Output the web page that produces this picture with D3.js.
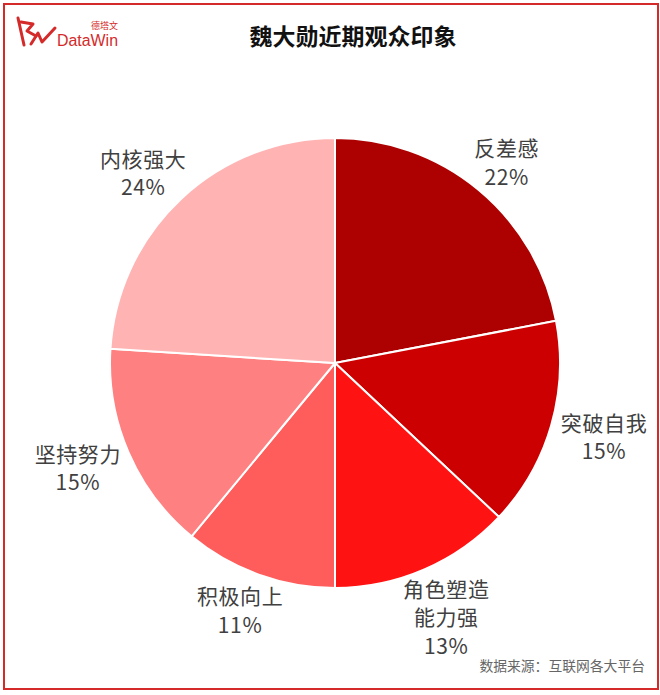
<!DOCTYPE html>
<html><head><meta charset="utf-8">
<script src="https://cdn.jsdelivr.net/npm/d3@7/dist/d3.min.js"></script>
<style>body{margin:0;background:#fff}svg{display:block}</style>
</head><body>
<svg id="c" width="660" height="695"></svg>
<script>
const categories = ["反差感", "突破自我", "角色塑造\n能力强", "积极向上", "坚持努力", "内核强大"];
const values = [22, 15, 13, 11, 15, 24];
const colors = ["#AD0000", "#CC0000", "#FF1212", "#FF5C5C", "#FF8080", "#FFB3B3"];
const title = "魏大勋近期观众印象";
const source = "数据来源：互联网各大平台";

const svg = d3.select("#c");
const font = "'Noto Sans CJK SC', 'Noto Sans', sans-serif";

// frame
svg.append("rect").attr("x", 4).attr("y", 4).attr("width", 654).attr("height", 685)
  .attr("fill", "none").attr("stroke", "#D42A2A").attr("stroke-width", 2);

// logo
const logo = svg.append("g").attr("fill", "none").attr("stroke", "#D42A2A").attr("stroke-width", 3).attr("stroke-linecap", "round").attr("stroke-linejoin", "round");
logo.append("path").attr("d", "M18,18 L24,45");
logo.append("path").attr("d", "M21,22 L33,24 L27,31 L36,36");
logo.append("path").attr("d", "M31,44 L38,33 L42,42 L55,28");
svg.append("text").attr("x", 57).attr("y", 46).attr("fill", "#D42A2A")
  .attr("font-family", "'Liberation Sans', Arial, sans-serif").attr("font-size", 16)
  .attr("textLength", 61).attr("lengthAdjust", "spacingAndGlyphs").text("DataWin");
svg.append("text").attr("x", 91).attr("y", 29).attr("fill", "#D42A2A")
  .attr("font-family", font).attr("font-size", 9).text("德塔文");

// title
svg.append("text").attr("x", 353).attr("y", 35).attr("text-anchor", "middle")
  .attr("dominant-baseline", "central").attr("font-family", font).attr("font-weight", "bold")
  .attr("font-size", 23).attr("fill", "#111").text(title);

// source
svg.append("text").attr("x", 645).attr("y", 665).attr("text-anchor", "end")
  .attr("dominant-baseline", "central").attr("font-family", font)
  .attr("font-size", 13.8).attr("fill", "#666").text(source);

// pie
const cx = 335, cy = 363, r = 225;
const data = categories.map((c, i) => ({ cat: c, val: values[i], color: colors[i] }));
const pie = d3.pie().sort(null).value(d => d.val);
const arcs = pie(data);
const arc = d3.arc().innerRadius(0).outerRadius(r);
const g = svg.append("g").attr("transform", `translate(${cx},${cy})`);
g.selectAll("path").data(arcs).join("path")
  .attr("d", arc).attr("fill", d => d.data.color)
  .attr("stroke", "#fff").attr("stroke-width", 2).attr("stroke-linejoin", "round");

// labels
const R = 237, lh = 28.5, fs = 21;
const total = d3.sum(values);
arcs.forEach(a => {
  const lines = a.data.cat.split("\n").concat([Math.round(a.data.val / total * 100) + "%"]);
  const mid = (a.startAngle + a.endAngle) / 2;
  const sx = Math.sin(mid), sy = -Math.cos(mid);
  const t = g.append("text").attr("text-anchor", "middle").attr("font-family", font)
    .attr("font-size", fs).attr("fill", "#404040").attr("letter-spacing", 0.6);
  lines.forEach((ln, i) => {
    t.append("tspan").attr("x", 0).attr("y", (i - (lines.length - 1) / 2) * lh)
      .attr("dominant-baseline", "central").text(ln);
  });
  const bb = t.node().getBBox();
  const w = bb.width, h = (lines.length - 1) * lh + fs;
  const x = R * sx + sx * w / 2, y = R * sy + sy * h / 2;
  t.attr("transform", `translate(${x},${y})`);
});
</script>
</body></html>
